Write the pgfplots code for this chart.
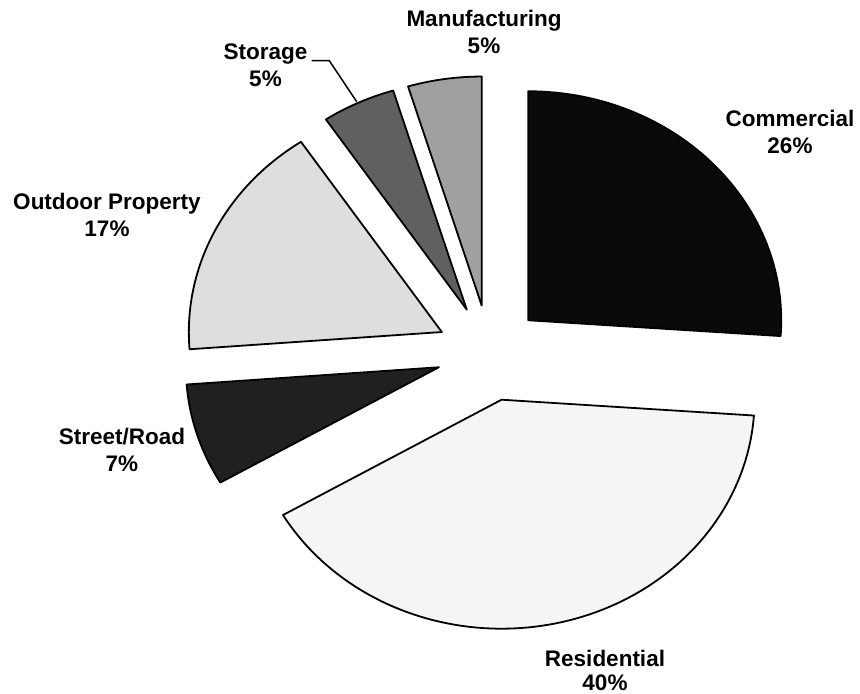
\documentclass[border=0pt]{standalone}
\usepackage{fontspec}
\setmainfont{Liberation Sans}
\usepackage{pgfplots}
\usepackage{pgfplotstable}
\pgfplotsset{compat=1.18}

\definecolor{cCom}{HTML}{0A0A0A}
\definecolor{cRes}{HTML}{F5F5F5}
\definecolor{cStr}{HTML}{202020}
\definecolor{cOut}{HTML}{DEDEDE}
\definecolor{cSto}{HTML}{606060}
\definecolor{cMan}{HTML}{A0A0A0}

% share of each category (percent), clockwise from 12 o'clock
\pgfplotstableread{
name value
Commercial 26.1
Residential 40.5
StreetRoad 7.2
Outdoor 16.8
Storage 4.7
Manufacturing 4.7
}\piedata

\def\cx{489.5}\def\cy{341}\def\rx{253}\def\ry{229}\def\ex{53}
\xdef\cumangle{90}

\newcommand\pieslice[2]{%
  \pgfplotstablegetelem{#1}{value}\of\piedata
  \pgfmathsetmacro\sA{\cumangle}%
  \pgfmathsetmacro\sB{\cumangle-3.6*\pgfplotsretval}%
  \pgfmathsetmacro\sM{(\sA+\sB)/2}%
  \pgfmathsetmacro\ox{\cx+\ex*cos(\sM)}%
  \pgfmathsetmacro\oy{\cy+\ex*\ry/\rx*sin(\sM)}%
  \xdef\cumangle{\sB}%
  \edef\doslice{\noexpand\addplot[fill=#2, draw=black, line width=1.8bp, line join=round, domain=\sB:\sA, samples=90, variable=\noexpand\t] ({\ox+\rx*cos(\noexpand\t)}, {\oy+\ry*sin(\noexpand\t)}) -- (axis cs:\ox,\oy) -- cycle;}%
  \doslice
}

\tikzset{lbl/.style={font=\fontsize{22.5bp}{27bp}\selectfont\bfseries, align=center, inner sep=0pt, anchor=base}}

\begin{document}
\begin{tikzpicture}
\begin{axis}[anchor=south west, at={(0,0)}, scale only axis,
  width=860bp, height=694bp, xmin=0, xmax=860, ymin=0, ymax=694,
  hide axis, clip=false]
\pieslice{0}{cCom}
\pieslice{1}{cRes}
\pieslice{2}{cStr}
\pieslice{3}{cOut}
\pieslice{4}{cSto}
\pieslice{5}{cMan}
\node[lbl] at (axis cs:790,540) {Commercial\\26\%};
\node[lbl, font=\fontsize{22.5bp}{24bp}\selectfont\bfseries] at (axis cs:605,4) {Residential\\40\%};
\node[lbl] at (axis cs:122,222) {Street/Road\\7\%};
\node[lbl] at (axis cs:107,457) {Outdoor Property\\17\%};
\node[lbl] at (axis cs:265.5,607) {Storage\\5\%};
\node[lbl] at (axis cs:484,640) {Manufacturing\\5\%};
\draw[line width=1.5bp] (axis cs:311.7,633.3) -- (axis cs:329.3,633.3) -- (axis cs:356.7,592.3);
\end{axis}
\pgfresetboundingbox
\useasboundingbox (0,0) rectangle (860bp,694bp);
\end{tikzpicture}
\end{document}
